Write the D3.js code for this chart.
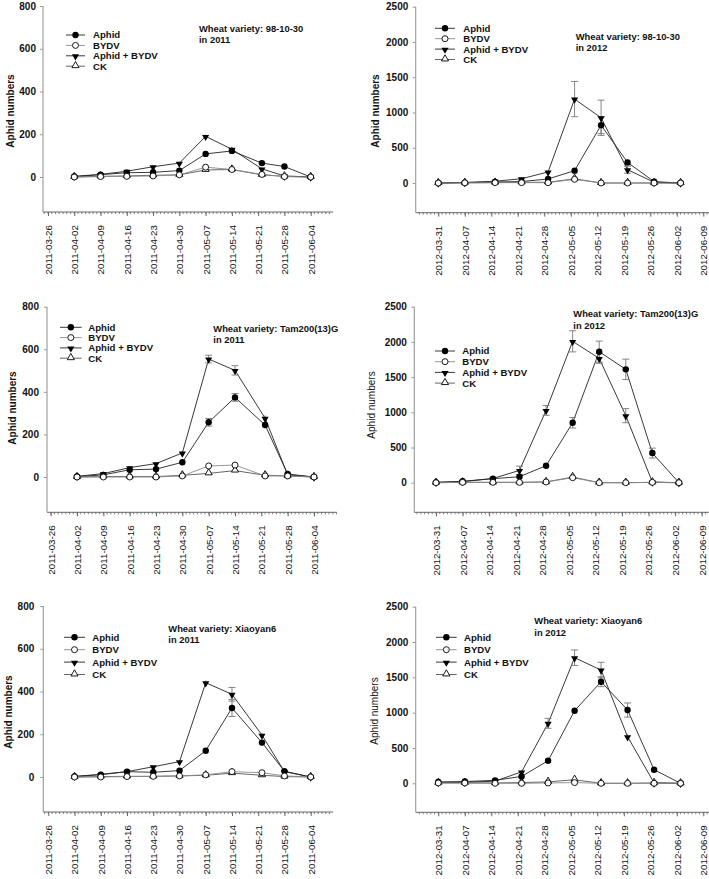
<!DOCTYPE html>
<html><head><meta charset="utf-8">
<script src="https://cdn.jsdelivr.net/npm/d3@7"></script>
<style>body{margin:0;background:#fff}svg{display:block}text{font-family:"Liberation Sans",Arial,sans-serif}</style>
</head><body>
<svg id="c" width="709" height="879"></svg>
<script>
// ---------- data ----------
const seriesNames = ["Aphid", "BYDV", "Aphid + BYDV", "CK"];
const dates2011 = ["2011-04-02","2011-04-09","2011-04-16","2011-04-23","2011-04-30","2011-05-07","2011-05-14","2011-05-22","2011-05-28","2011-06-04"];
const dates2012 = ["2012-03-31","2012-04-07","2012-04-15","2012-04-22","2012-04-29","2012-05-06","2012-05-13","2012-05-20","2012-05-27","2012-06-03"];
const ticks2011 = ["2011-03-26","2011-04-02","2011-04-09","2011-04-16","2011-04-23","2011-04-30","2011-05-07","2011-05-14","2011-05-21","2011-05-28","2011-06-04"];
const ticks2012 = ["2012-03-31","2012-04-07","2012-04-14","2012-04-21","2012-04-28","2012-05-05","2012-05-12","2012-05-19","2012-05-26","2012-06-02","2012-06-09"];
const yTicks2011 = [0, 200, 400, 600, 800];
const yTicks2012 = [0, 500, 1000, 1500, 2000, 2500];

// 98-10-30, 2011
const v98_2011_aphid = [2, 11, 20, 22, 30, 108, 122, 65, 49, 0];
const v98_2011_bydv  = [0, 2, 3, 5, 10, 46, 35, 12, 2, 0];
const v98_2011_ab    = [3, 12, 27, 48, 65, 190, 130, 38, 5, 0];
const v98_2011_ck    = [0, 3, 5, 8, 10, 33, 35, 10, 3, 0];
const e98_2011_aphid = [0, 2, 3, 3, 4, 8, 15, 8, 5, 0];
const e98_2011_bydv  = [0, 1, 1, 1, 2, 5, 4, 2, 1, 0];
const e98_2011_ab    = [0, 2, 3, 5, 6, 8, 12, 6, 2, 0];
const e98_2011_ck    = [0, 1, 1, 1, 2, 4, 4, 2, 1, 0];
// 98-10-30, 2012
const v98_2012_aphid = [0, 5, 15, 20, 57, 175, 820, 292, 20, 0];
const v98_2012_bydv  = [0, 2, 5, 5, 5, 52, 0, 0, 0, 0];
const v98_2012_ab    = [0, 8, 25, 61, 156, 1190, 925, 189, 10, 0];
const v98_2012_ck    = [0, 3, 5, 10, 10, 60, 0, 0, 0, 0];
const e98_2012_aphid = [0, 2, 5, 5, 10, 25, 120, 40, 10, 0];
const e98_2012_bydv  = [0, 0, 1, 1, 1, 10, 0, 0, 0, 0];
const e98_2012_ab    = [0, 3, 8, 15, 25, 250, 250, 50, 5, 0];
const e98_2012_ck    = [0, 1, 1, 2, 2, 10, 0, 0, 0, 0];
// Tam200(13)G, 2011
const vTam_2011_aphid = [2, 10, 34, 37, 69, 257, 374, 244, 14, 0];
const vTam_2011_bydv  = [0, 0, 0, 0, 5, 52, 56, 5, 5, 0];
const vTam_2011_ab    = [3, 16, 44, 63, 113, 554, 501, 276, 10, 0];
const vTam_2011_ck    = [0, 2, 2, 2, 8, 17, 30, 8, 5, 0];
const eTam_2011_aphid = [0, 2, 5, 6, 6, 18, 18, 15, 4, 0];
const eTam_2011_bydv  = [0, 0, 0, 0, 2, 5, 5, 2, 1, 0];
const eTam_2011_ab    = [0, 3, 6, 8, 10, 18, 22, 14, 4, 0];
const eTam_2011_ck    = [0, 1, 1, 1, 2, 3, 4, 2, 1, 0];
// Tam200(13)G, 2012
const vTam_2012_aphid = [5, 20, 57, 85, 241, 852, 1861, 1610, 421, 0];
const vTam_2012_bydv  = [0, 5, 5, 5, 10, 71, 0, 0, 5, 0];
const vTam_2012_ab    = [5, 15, 60, 175, 1027, 2008, 1766, 952, 10, 0];
const vTam_2012_ck    = [0, 5, 5, 5, 10, 80, 0, 0, 5, 0];
const eTam_2012_aphid = [3, 8, 10, 20, 35, 75, 150, 145, 70, 0];
const eTam_2012_bydv  = [0, 1, 1, 1, 3, 15, 0, 0, 1, 0];
const eTam_2012_ab    = [3, 5, 15, 60, 70, 150, 70, 100, 5, 0];
const eTam_2012_ck    = [0, 1, 1, 1, 3, 20, 0, 0, 1, 0];
// Xiaoyan6, 2011
const vXy_2011_aphid = [2, 11, 25, 22, 30, 123, 323, 161, 27, 0];
const vXy_2011_bydv  = [0, 0, 2, 3, 5, 10, 25, 20, 5, 0];
const vXy_2011_ab    = [3, 12, 25, 48, 72, 441, 387, 196, 25, 0];
const vXy_2011_ck    = [0, 2, 3, 3, 5, 8, 18, 8, 2, 0];
const eXy_2011_aphid = [0, 2, 4, 12, 5, 8, 40, 15, 5, 0];
const eXy_2011_bydv  = [0, 0, 1, 1, 1, 2, 4, 3, 1, 0];
const eXy_2011_ab    = [0, 2, 4, 6, 6, 10, 32, 10, 5, 0];
const eXy_2011_ck    = [0, 0, 1, 1, 1, 2, 3, 2, 1, 0];
// Xiaoyan6, 2012
const vXy_2012_aphid = [20, 25, 42, 97, 320, 1027, 1438, 1037, 192, 0];
const vXy_2012_bydv  = [5, 5, 0, 0, 5, 10, 0, 0, 0, 0];
const vXy_2012_ab    = [10, 15, 30, 162, 849, 1778, 1603, 660, 5, 0];
const vXy_2012_ck    = [5, 5, 5, 10, 20, 50, 0, 0, 5, 0];
const eXy_2012_aphid = [3, 3, 5, 25, 40, 30, 70, 100, 20, 0];
const eXy_2012_bydv  = [1, 1, 0, 0, 1, 3, 0, 0, 0, 0];
const eXy_2012_ab    = [2, 3, 5, 30, 70, 110, 110, 40, 2, 0];
const eXy_2012_ck    = [1, 1, 1, 2, 5, 15, 0, 0, 1, 0];

// ---------- layout ----------
const parse = d3.utcParse("%Y-%m-%d");
const panels = [
  {year:2011, title:"Wheat variety: 98-10-30", vals:[v98_2011_aphid,v98_2011_bydv,v98_2011_ab,v98_2011_ck], errs:[e98_2011_aphid,e98_2011_bydv,e98_2011_ab,e98_2011_ck],
   ax:43, y0:177, yT:6, xa:212, tx0:48, tx1:310.7, xr:333, ylab:{x:10,y:111,bold:true}, pad:4,
   leg:{x0:66,x1:85,tx:93,y:35,dy:10.4}, ttl:{x:199,y:32,dy:11.3}},
  {year:2012, title:"Wheat variety: 98-10-30", vals:[v98_2012_aphid,v98_2012_bydv,v98_2012_ab,v98_2012_ck], errs:[e98_2012_aphid,e98_2012_bydv,e98_2012_ab,e98_2012_ck],
   ax:415.7, y0:183, yT:6.7, xa:212.7, tx0:438.3, tx1:703.3, xr:709, ylab:{x:375.5,y:111,bold:true}, pad:4.4,
   leg:{x0:435,x1:455,tx:463.3,y:28.3,dy:10.4}, ttl:{x:575.7,y:39.5,dy:11.3}},
  {year:2011, title:"Wheat variety: Tam200(13)G", vals:[vTam_2011_aphid,vTam_2011_bydv,vTam_2011_ab,vTam_2011_ck], errs:[eTam_2011_aphid,eTam_2011_bydv,eTam_2011_ab,eTam_2011_ck],
   ax:47, y0:477, yT:306.7, xa:512.3, tx0:50.7, tx1:314, xr:336.7, ylab:{x:12,y:408,bold:true}, pad:5,
   leg:{x0:60,x1:81.7,tx:88.3,y:327.3,dy:10.3}, ttl:{x:213.3,y:331.7,dy:11.2}},
  {year:2012, title:"Wheat variety: Tam200(13)G", vals:[vTam_2012_aphid,vTam_2012_bydv,vTam_2012_ab,vTam_2012_ck], errs:[eTam_2012_aphid,eTam_2012_bydv,eTam_2012_ab,eTam_2012_ck],
   ax:414.3, y0:482.7, yT:306.7, xa:512.3, tx0:436, tx1:701.7, xr:709, ylab:{x:371,y:405,bold:false}, pad:4.4,
   leg:{x0:435,x1:455,tx:462.3,y:351,dy:10.7}, ttl:{x:573.3,y:317.3,dy:11.5}},
  {year:2011, title:"Wheat variety: Xiaoyan6", vals:[vXy_2011_aphid,vXy_2011_bydv,vXy_2011_ab,vXy_2011_ck], errs:[eXy_2011_aphid,eXy_2011_bydv,eXy_2011_ab,eXy_2011_ck],
   ax:43.3, y0:777, yT:606, xa:812, tx0:48.3, tx1:310.7, xr:333, ylab:{x:8,y:712,bold:true}, pad:6,
   leg:{x0:64,x1:85,tx:92.3,y:637.3,dy:12.4}, ttl:{x:168.3,y:631.7,dy:11.6}},
  {year:2012, title:"Wheat variety: Xiaoyan6", vals:[vXy_2012_aphid,vXy_2012_bydv,vXy_2012_ab,vXy_2012_ck], errs:[eXy_2012_aphid,eXy_2012_bydv,eXy_2012_ab,eXy_2012_ck],
   ax:415.7, y0:783.3, yT:606.7, xa:812.3, tx0:438.3, tx1:703.3, xr:709, ylab:{x:374,y:711,bold:false}, pad:4.4,
   leg:{x0:436,x1:456.7,tx:464,y:637.3,dy:12.4}, ttl:{x:534.3,y:624.3,dy:11.4}}
];

const lineColors = ["#222", "#8a8a8a", "#222", "#555"];
const svg = d3.select("#c");
const symTri = d3.symbol().type(d3.symbolTriangle).size(22);
const symTriOpen = d3.symbol().type(d3.symbolTriangle).size(22);

function marker(g, k, x, y) {
  if (k === 0) g.append("circle").attr("cx",x).attr("cy",y).attr("r",3.2).attr("fill","#000");
  else if (k === 1) g.append("circle").attr("cx",x).attr("cy",y).attr("r",3.0).attr("fill","#fff").attr("stroke","#000").attr("stroke-width",0.9);
  else if (k === 2) g.append("path").attr("d",symTri()).attr("transform",`translate(${x},${y+0.6}) rotate(180)`).attr("fill","#000");
  else g.append("path").attr("d",symTriOpen()).attr("transform",`translate(${x},${y-0.6})`).attr("fill","#fff").attr("stroke","#000").attr("stroke-width",0.9);
}

panels.forEach(p => {
  const g = svg.append("g");
  const tickDates = (p.year === 2011 ? ticks2011 : ticks2012).map(parse);
  const dataDates = (p.year === 2011 ? dates2011 : dates2012).map(parse);
  const yTicks = p.year === 2011 ? yTicks2011 : yTicks2012;
  const x = d3.scaleUtc().domain([tickDates[0], tickDates[tickDates.length-1]]).range([p.tx0, p.tx1]);
  const y = d3.scaleLinear().domain([0, yTicks[yTicks.length-1]]).range([p.y0, p.yT]);

  // x axis
  g.append("line").attr("x1",p.ax).attr("x2",p.xr).attr("y1",p.xa).attr("y2",p.xa).attr("stroke","#666").attr("stroke-width",1);
  const dStart = x.invert(p.ax), dEnd = x.invert(p.xr);
  const minor = d3.utcDay.range(d3.utcDay.ceil(dStart), dEnd);
  g.selectAll(null).data(minor).join("line")
    .attr("x1",d=>x(d)).attr("x2",d=>x(d)).attr("y1",p.xa).attr("y2",p.xa+2).attr("stroke","#666").attr("stroke-width",0.8);
  const xAxis = d3.axisBottom(x).tickValues(tickDates).tickSize(4).tickFormat(d3.utcFormat("%Y-%m-%d"));
  const xg = g.append("g").attr("transform",`translate(0,${p.xa})`).call(xAxis);
  xg.select(".domain").remove();
  xg.selectAll(".tick line").attr("stroke","#666");
  xg.selectAll(".tick text").attr("font-size","9.8px").attr("fill","#111")
    .attr("font-family","'Liberation Sans',Arial,sans-serif")
    .attr("text-anchor","end").attr("transform","rotate(-90)")
    .attr("x",-13).attr("y",0).attr("dy","0.35em");

  // y axis
  const yAxis = d3.axisLeft(y).tickValues(yTicks).tickSize(3).tickPadding(p.pad).tickFormat(d3.format("d"));
  const yg = g.append("g").attr("transform",`translate(${p.ax},0)`).call(yAxis);
  yg.select(".domain").remove();
  yg.selectAll(".tick line").attr("stroke","#999");
  yg.selectAll(".tick text").attr("font-size","10px").attr("font-weight","bold").attr("fill","#111")
    .attr("font-family","'Liberation Sans',Arial,sans-serif");
  g.append("line").attr("x1",p.ax).attr("x2",p.ax).attr("y1",p.yT).attr("y2",p.xa).attr("stroke","#a0a0a0").attr("stroke-width",1.2);

  g.append("text").attr("transform",`translate(${p.ylab.x},${p.ylab.y}) rotate(-90)`)
    .attr("text-anchor","middle").attr("dy","0.35em").attr("font-size","10px")
    .attr("font-weight",p.ylab.bold?"bold":"normal").attr("fill","#111").text("Aphid numbers");

  // series
  const order = [3, 2, 0, 1];
  const line = d3.line().x(d=>x(d[0])).y(d=>y(d[1]));
  order.forEach(k => {
    const pts = dataDates.map((d,i)=>[d, p.vals[k][i]]);
    g.append("path").attr("d",line(pts)).attr("fill","none").attr("stroke",lineColors[k]).attr("stroke-width",0.9);
  });
  order.forEach(k => {
    dataDates.forEach((d,i) => {
      const e = p.errs[k][i];
      if (e > 0) {
        const cx = x(d), v = p.vals[k][i];
        const yt = y(v+e), yb = y(Math.max(v-e, 0));
        g.append("line").attr("x1",cx).attr("x2",cx).attr("y1",yt).attr("y2",yb).attr("stroke","#777").attr("stroke-width",0.9);
        if (y(v) - yt > 3.5) g.append("line").attr("x1",cx-3.5).attr("x2",cx+3.5).attr("y1",yt).attr("y2",yt).attr("stroke","#777").attr("stroke-width",0.9);
        if (yb - y(v) > 3.5) g.append("line").attr("x1",cx-3.5).attr("x2",cx+3.5).attr("y1",yb).attr("y2",yb).attr("stroke","#777").attr("stroke-width",0.9);
      }
    });
  });
  order.forEach(k => {
    dataDates.forEach((d,i) => marker(g, k, x(d), y(p.vals[k][i])));
  });

  // legend
  seriesNames.forEach((name,k) => {
    const ly = p.leg.y + k*p.leg.dy;
    g.append("line").attr("x1",p.leg.x0).attr("x2",p.leg.x1).attr("y1",ly).attr("y2",ly).attr("stroke",lineColors[k]).attr("stroke-width",0.9);
    marker(g, k, (p.leg.x0+p.leg.x1)/2, ly);
    g.append("text").attr("x",p.leg.tx).attr("y",ly).attr("dy","0.36em").attr("font-size","9.6px").attr("font-weight","bold").attr("fill","#111").text(name);
  });

  // title
  g.append("text").attr("x",p.ttl.x).attr("y",p.ttl.y).attr("font-size","9.4px").attr("font-weight","bold").attr("fill","#111").text(p.title);
  g.append("text").attr("x",p.ttl.x).attr("y",p.ttl.y+p.ttl.dy).attr("font-size","9.4px").attr("font-weight","bold").attr("fill","#111").text("in " + p.year);
});
</script>
</body></html>
